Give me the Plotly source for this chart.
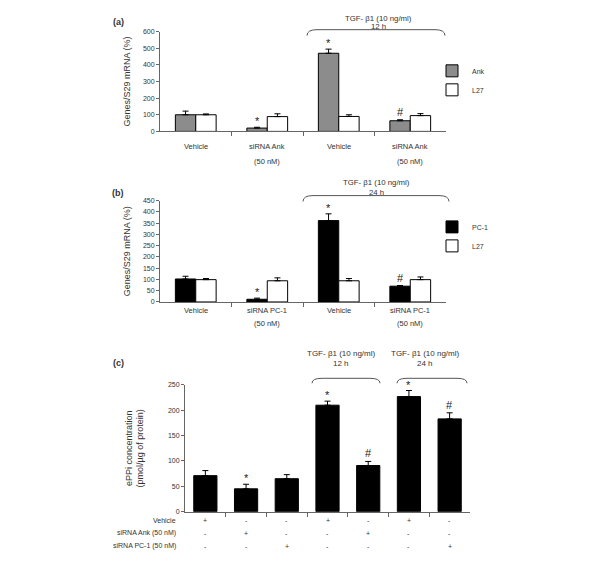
import plotly.graph_objects as go

# ---------------- data ----------------
cats_a = ["Vehicle", "siRNA Ank", "Vehicle", "siRNA Ank"]
cats_b = ["Vehicle", "siRNA PC-1", "Vehicle", "siRNA PC-1"]
sub_ab = ["", "(50 nM)", "", "(50 nM)"]

ank = [100, 20, 470, 64]
ank_err = [22, 5, 25, 6]
l27_a = [100, 89, 90, 95]
l27_a_err = [5, 17, 10, 12]
marks_a = ["", "*", "*", "#"]

pc1 = [102, 12, 361, 70]
pc1_err = [12, 5, 30, 3]
l27_b = [99, 94, 94, 99]
l27_b_err = [5, 13, 10, 12]
marks_b = ["", "*", "*", "#"]

eppi = [71, 45, 65, 210, 91, 227, 183]
eppi_err = [10, 9, 8, 8, 8, 12, 12]
marks_c = ["", "*", "", "*", "#", "*", "#"]
row_labels = ["Vehicle", "siRNA Ank (50 nM)", "siRNA PC-1 (50 nM)"]
row_vehicle = ["+", "-", "-", "+", "-", "+", "-"]
row_ank = ["-", "+", "-", "-", "+", "-", "-"]
row_pc1 = ["-", "-", "+", "-", "-", "-", "+"]
tgf_label = "TGF- β1 (10 ng/ml)"

W, H = 600, 565
def px(x): return x / W
def py(y): return 1 - y / H

FONT = "Liberation Sans, Arial, sans-serif"
TXT = "#333333"
AX = "#666666"
BARGAP = 0.43
half = (1 - BARGAP) / 4  # offset of grouped bar centers

fig = go.Figure()

def err(arr):
    return dict(type="data", array=arr, arrayminus=[0] * len(arr), symmetric=False,
                color="black", thickness=1, width=3)

xa = list(range(len(cats_a)))
xc = list(range(len(eppi)))

fig.add_bar(x=xa, y=ank, error_y=err(ank_err), name="Ank", xaxis="x", yaxis="y",
            marker=dict(color="#8c8c8c", line=dict(color="black", width=1)), legend="legend")
fig.add_bar(x=xa, y=l27_a, error_y=err(l27_a_err), name="L27", xaxis="x", yaxis="y",
            marker=dict(color="white", line=dict(color="black", width=1)), legend="legend")
fig.add_bar(x=xa, y=pc1, error_y=err(pc1_err), name="PC-1", xaxis="x2", yaxis="y2",
            marker=dict(color="black", line=dict(color="black", width=1)), legend="legend2")
fig.add_bar(x=xa, y=l27_b, error_y=err(l27_b_err), name="L27", xaxis="x2", yaxis="y2",
            marker=dict(color="white", line=dict(color="black", width=1)), legend="legend2")
fig.add_bar(x=xc, y=eppi, error_y=err(eppi_err), name="ePPi", xaxis="x3", yaxis="y3",
            marker=dict(color="black", line=dict(color="black", width=1)), showlegend=False)

ann = []
shapes = []

def yaxis(domain, rng, dtick, title, standoff, anchor):
    return dict(domain=domain, range=rng, dtick=dtick, anchor=anchor, showline=True,
                linecolor=AX, linewidth=1, ticks="outside", ticklen=3, tickcolor=AX,
                showgrid=False, zeroline=False,
                tickfont=dict(size=7, color=TXT, family=FONT),
                title=dict(text=title, font=dict(size=9, color=TXT, family=FONT), standoff=standoff))

def xaxis(domain, n, anchor):
    return dict(domain=domain, range=[-0.5, n - 0.5], anchor=anchor, showline=True, linecolor=AX,
                linewidth=1, ticks="outside", ticklen=4, tickcolor=AX,
                tickvals=[i + 0.5 for i in range(n - 1)], showticklabels=False,
                showgrid=False, zeroline=False)

dom_ab_x = [px(160), px(446)]
dom_c_x = [px(185), px(470)]

fig.update_layout(
    xaxis=xaxis(dom_ab_x, 4, "y"),
    yaxis=yaxis([py(129), py(28)], [0, 600], 100, "Genes/S29 mRNA (%)", 10, "x"),
    xaxis2=xaxis(dom_ab_x, 4, "y2"),
    yaxis2=yaxis([py(301.7), py(199)], [0, 450], 50, "Genes/S29 mRNA (%)", 10, "x2"),
    xaxis3=xaxis(dom_c_x, 7, "y3"),
    yaxis3=yaxis([py(514), py(385.7)], [0, 250], 50,
                 "ePPi concentration<br>(pmol/µg of protein)", 22, "x3"),
)

def A(**kw):
    d = dict(showarrow=False, xanchor="center")
    d.update(kw)
    ann.append(d)

# category labels panels a, b
for i in xa:
    for xr, cats, y1, y2 in [("x", cats_a, 138, 153), ("x2", cats_b, 310, 324)]:
        A(x=i, y=py(y1), xref=xr, yref="paper", text=cats[i],
          font=dict(size=7.5, color=TXT, family=FONT))
        A(x=i, y=py(y2), xref=xr, yref="paper", text=sub_ab[i],
          font=dict(size=7.5, color=TXT, family=FONT))

# significance marks
def mark(xref, yref, x, y, t):
    if t:
        A(x=x, y=y, xref=xref, yref=yref, text=t, yanchor="bottom",
          yshift=-2 if t == "*" else 0,
          font=dict(size=11, color="#222222", family=FONT))

for i in xa:
    mark("x", "y", i - half, ank[i] + ank_err[i], marks_a[i])
    mark("x2", "y2", i - half, pc1[i] + pc1_err[i], marks_b[i])
for i in xc:
    mark("x3", "y3", i, eppi[i] + eppi_err[i], marks_c[i])

# table rows panel c
rows = [row_vehicle, row_ank, row_pc1]
row_y = [529, 542, 555]
for r, lab in enumerate(row_labels):
    A(x=px(178), y=py(row_y[r]), xref="paper", yref="paper", text=lab, xanchor="right",
      font=dict(size=7, color=TXT, family=FONT))
    for i in xc:
        A(x=i, y=py(row_y[r]), xref="x3", yref="paper", text=rows[r][i],
          font=dict(size=7, color=TXT, family=FONT))

# panel letters
for lab, yy in [("(a)", 11), ("(b)", 184), ("(c)", 364)]:
    A(x=px(118), y=py(yy), xref="paper", yref="paper", text="<b>" + lab + "</b>",
      font=dict(size=9, color=TXT, family=FONT))

# braces with TGF labels
def brace(x0, x1, top, depth, l1y, l2y, hours, cx, fs):
    r = 10
    path = (f"M {px(x0)},{py(top + depth)} Q {px(x0)},{py(top)} {px(x0 + r)},{py(top)} "
            f"L {px(x1 - r)},{py(top)} Q {px(x1)},{py(top)} {px(x1)},{py(top + depth)}")
    shapes.append(dict(type="path", path=path, xref="paper", yref="paper",
                       line=dict(color="#555555", width=1)))
    A(x=px(cx), y=py(l1y), xref="paper", yref="paper", text=tgf_label,
      font=dict(size=fs, color=TXT, family=FONT))
    A(x=px(cx), y=py(l2y), xref="paper", yref="paper", text=hours,
      font=dict(size=fs, color=TXT, family=FONT))

brace(307, 445, 26, 6, 8, 16, "12 h", 378, 7.8)
brace(303, 449, 194, 6, 174, 184, "24 h", 376, 7.8)
brace(312, 380, 379, 5, 354, 364, "12 h", 341, 8)
brace(397, 467, 379, 5, 354, 364, "24 h", 425, 8)

leg = dict(font=dict(size=7, color=TXT, family=FONT), bgcolor="rgba(0,0,0,0)",
           xanchor="left", yanchor="top", itemwidth=30)
fig.update_layout(
    legend=dict(x=px(432), y=py(53), **leg),
    legend2=dict(x=px(432), y=py(211), **leg),
)

fig.update_layout(
    width=W, height=H, margin=dict(l=0, r=0, t=0, b=0),
    paper_bgcolor="white", plot_bgcolor="white",
    barmode="group", bargap=BARGAP, bargroupgap=0,
    annotations=ann, shapes=shapes,
    font=dict(family=FONT, color=TXT),
    hovermode=False,
)

fig.write_html("out.html", config={"displayModeBar": False, "staticPlot": True},
               post_script="document.body.style.margin='0px';")
